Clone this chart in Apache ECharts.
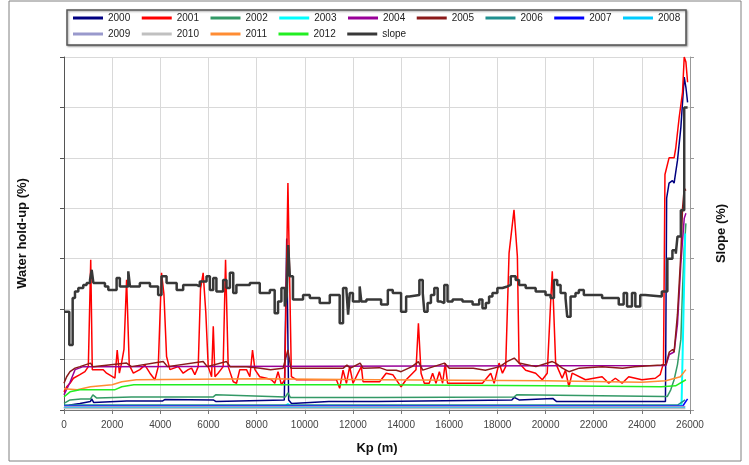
<!DOCTYPE html>
<html>
<head>
<meta charset="utf-8">
<script src="https://cdn.jsdelivr.net/npm/echarts@6/dist/echarts.min.js"></script>
<style>
  html, body { margin: 0; padding: 0; background: #fff; }
  #chart { width: 749px; height: 465px; }
</style>
</head>
<body>
<div id="chart"></div>
<script>
// x axis ticks (Kp, m)
var kpTicks = [0, 2000, 4000, 6000, 8000, 10000, 12000, 14000, 16000, 18000, 20000, 22000, 24000, 26000];

// slope (%), right axis, stepped
var kpSlope = [0, 220, 360, 456, 595, 800, 940, 1080, 1150, 1220, 1700, 1840, 2185, 2320, 2670, 2740, 3150, 3570, 3910, 4050, 4260, 4680, 4950, 5500, 5640, 5920, 6060, 6200, 6330, 6610, 6750, 6890, 7030, 7160, 7720, 8130, 8550, 8750, 8890, 9030, 9170, 9250, 9310, 9380, 9510, 9930, 10210, 10620, 11040, 11450, 11590, 11730, 11800, 11870, 12000, 12280, 12350, 12560, 13170, 13450, 13655, 14000, 14210, 14345, 14760, 14900, 14965, 15100, 15240, 15380, 15520, 15655, 15795, 15930, 16140, 16550, 16970, 17245, 17380, 17520, 17655, 17795, 18000, 18210, 18415, 18555, 18760, 18900, 19175, 19590, 20000, 20210, 20350, 20485, 20625, 20830, 20900, 21040, 21245, 21385, 21590, 22350, 23040, 23245, 23385, 23590, 23730, 23935, 24140, 24830, 25060, 25270, 25410, 25480, 25620, 25760, 25900];
var slope = [1.95, 1.29, 2.22, 2.35, 2.42, 2.48, 2.52, 2.58, 2.78, 2.52, 2.45, 2.38, 2.62, 2.45, 2.75, 2.45, 2.52, 2.45, 2.28, 2.65, 2.52, 2.38, 2.48, 2.45, 2.55, 2.65, 2.38, 2.62, 2.35, 2.58, 2.42, 2.72, 2.32, 2.48, 2.52, 2.32, 2.38, 1.92, 2.15, 2.42, 2.05, 2.25, 3.27, 2.65, 2.19, 2.28, 2.22, 2.12, 2.28, 1.72, 2.42, 2.38, 1.89, 2.32, 2.15, 2.45, 2.15, 2.19, 2.09, 2.38, 2.32, 1.95, 2.25, 2.28, 2.58, 2.32, 1.95, 2.12, 2.28, 2.42, 2.15, 2.12, 2.48, 2.15, 2.19, 2.15, 2.09, 2.19, 2.02, 2.12, 2.25, 2.32, 2.42, 2.45, 2.48, 2.65, 2.58, 2.48, 2.42, 2.35, 2.28, 2.22, 2.58, 2.48, 2.32, 2.22, 1.85, 2.25, 2.32, 2.38, 2.28, 2.22, 2.09, 2.32, 2.05, 2.32, 2.05, 2.28, 2.25, 2.35, 3.0, 3.17, 3.1, 3.44, 3.96, 6.0, 6.0];

// water hold-up (%), left axis
var kp2000 = [0, 250, 660, 1100, 1150, 1230, 2600, 4100, 4200, 6200, 6300, 9150, 9250, 9330, 9450, 11000, 13000, 18600, 18700, 18900, 20300, 20450, 24980, 25030, 25130, 25270, 25340, 25480, 25620, 25760, 25830, 25900];
var hu2000 = [0.03, 0.1, 0.13, 0.17, 0.22, 0.15, 0.18, 0.18, 0.21, 0.2, 0.17, 0.2, 3.4, 0.2, 0.13, 0.17, 0.17, 0.2, 0.25, 0.2, 0.23, 0.17, 0.17, 4.2, 4.5, 4.55, 4.5, 4.95, 5.6, 6.6, 6.4, 6.1];

var kp2001 = [0, 110, 250, 390, 660, 870, 1010, 1110, 1175, 1630, 1770, 2115, 2210, 2300, 2390, 2490, 2600, 2710, 2880, 3150, 3360, 3570, 3775, 3915, 4050, 4150, 4260, 4400, 4745, 4950, 5160, 5300, 5435, 5575, 5670, 5780, 5890, 5990, 6130, 6200, 6270, 6400, 6610, 6710, 6820, 7030, 7165, 7300, 7580, 7720, 7830, 7930, 8130, 8410, 8615, 8755, 8890, 9030, 9170, 9300, 9445, 9655, 11315, 11450, 11590, 11730, 11865, 12005, 12210, 12350, 12420, 13110, 13380, 13655, 14000, 14210, 14620, 14720, 14830, 14965, 15170, 15310, 15450, 15590, 15725, 15835, 15930, 17380, 17725, 17865, 18070, 18210, 18345, 18485, 18690, 18830, 18900, 19175, 19590, 19865, 20070, 20210, 20280, 20420, 20690, 20830, 20970, 21105, 21660, 22350, 22625, 22900, 23180, 23455, 24000, 24560, 24760, 24900, 24960, 25130, 25340, 25410, 25550, 25690, 25760, 25830, 25900];
var hu2001 = [0.36, 0.46, 0.53, 0.63, 0.7, 0.76, 0.86, 2.98, 0.8, 0.8, 0.73, 0.63, 1.19, 0.73, 0.93, 1.2, 2.58, 0.89, 0.73, 0.8, 0.89, 0.73, 0.6, 0.86, 2.72, 2.3, 1.06, 0.8, 0.86, 0.73, 0.8, 0.83, 0.7, 0.86, 2.4, 2.72, 1.93, 0.86, 0.66, 1.66, 0.66, 0.73, 0.86, 2.98, 0.86, 0.56, 0.53, 0.8, 0.8, 0.66, 1.19, 0.8, 0.66, 0.63, 0.6, 0.53, 0.76, 0.5, 0.6, 4.5, 0.66, 0.6, 0.6, 0.43, 0.79, 0.53, 0.86, 0.53, 0.73, 0.86, 0.56, 0.56, 0.73, 0.7, 0.46, 0.6, 0.8, 1.72, 0.73, 0.53, 0.53, 0.73, 0.53, 0.76, 0.53, 0.93, 0.53, 0.53, 0.73, 0.53, 0.93, 0.73, 0.86, 3.11, 3.97, 3.05, 0.93, 0.79, 0.73, 0.6, 0.73, 2.12, 2.75, 0.93, 0.63, 0.79, 0.46, 0.73, 0.6, 0.66, 0.53, 0.63, 0.53, 0.66, 0.6, 0.63, 0.7, 0.93, 4.67, 5.0, 5.0, 5.2, 5.8, 6.3, 7.0, 6.9, 6.5];

var kp2002 = [0, 250, 700, 1100, 1200, 1350, 2100, 2800, 6200, 6300, 9200, 9300, 9400, 13000, 18700, 18800, 24900, 25060, 25200, 25340, 25480, 25620, 25690, 25760, 25830];
var hu2002 = [0.13, 0.2, 0.22, 0.22, 0.3, 0.24, 0.25, 0.26, 0.26, 0.3, 0.26, 0.34, 0.25, 0.25, 0.26, 0.3, 0.27, 0.27, 0.4, 0.6, 0.9, 1.4, 2.4, 3.2, 3.7];

var kp2003 = [0, 9200, 9300, 9400, 25600, 25650, 25800];
var hu2003 = [0.08, 0.08, 0.12, 0.08, 0.08, 0.12, 3.5];

var kp2004 = [0, 250, 460, 800, 25000, 25140, 25340, 25480, 25620, 25760, 25830];
var hu2004 = [0.3, 0.55, 0.8, 0.86, 0.88, 1.1, 1.15, 1.7, 2.9, 3.8, 3.9];

var kp2005 = [0, 110, 250, 460, 660, 1100, 1200, 2600, 2800, 4120, 4300, 5780, 5950, 6750, 6900, 7580, 8150, 8580, 9100, 9300, 9420, 11600, 11750, 11900, 12300, 12420, 13110, 13400, 13800, 14000, 14450, 14720, 14900, 15800, 16000, 17000, 17500, 18100, 18400, 18700, 18900, 19600, 20280, 20420, 20700, 20970, 21400, 22350, 23200, 23700, 24800, 25000, 25140, 25280, 25340, 25480, 25550, 25620, 25690, 25760, 25830];
var hu2005 = [0.53, 0.66, 0.76, 0.83, 0.86, 0.93, 0.86, 0.93, 0.86, 0.96, 0.86, 0.96, 0.86, 0.96, 0.86, 0.86, 0.83, 0.8, 0.83, 1.19, 0.83, 0.83, 0.89, 0.83, 0.93, 0.83, 0.84, 0.79, 0.79, 0.76, 0.86, 0.96, 0.79, 0.93, 0.83, 0.83, 0.79, 0.86, 0.96, 1.03, 0.93, 0.86, 0.96, 0.93, 0.83, 0.76, 0.83, 0.86, 0.83, 0.86, 0.89, 0.9, 1.15, 1.2, 1.15, 1.9, 2.5, 3.1, 4.0, 4.4, 4.35];

var kp2006 = [0, 25500, 25800];
var hu2006 = [0.1, 0.1, 0.2];

var kp2007 = [0, 25700, 25900];
var hu2007 = [0.08, 0.08, 0.22];

var kp2008 = [0, 25800];
var hu2008 = [0.05, 0.05];

var kp2009 = [0, 25800];
var hu2009 = [0.07, 0.07];

var kp2010 = [0, 25800];
var hu2010 = [0.03, 0.03];

var kp2011 = [0, 550, 1100, 2000, 2400, 3000, 8000, 13000, 20000, 24000, 25000, 25600, 25830];
var hu2011 = [0.42, 0.4, 0.46, 0.5, 0.56, 0.6, 0.62, 0.6, 0.58, 0.55, 0.58, 0.66, 0.8];

var kp2012 = [0, 250, 660, 2100, 2400, 2900, 13000, 20000, 24800, 25400, 25830];
var hu2012 = [0.26, 0.36, 0.4, 0.4, 0.46, 0.5, 0.5, 0.48, 0.46, 0.48, 0.6];

var font = 'Liberation Sans, Arial, sans-serif';

function pairs(xs, ys) {
  return xs.map(function (x, i) { return [x, ys[i]]; });
}

function line(name, xs, ys, color, width, yIndex, step) {
  return {
    name: name,
    type: 'line',
    yAxisIndex: yIndex || 0,
    data: pairs(xs, ys),
    symbol: 'none',
    step: step || false,
    animation: false,
    lineStyle: { color: color, width: width },
    itemStyle: { color: color }
  };
}

var chart = echarts.init(document.getElementById('chart'), null, { renderer: 'canvas' });

var legendCommon = {
  orient: 'horizontal',
  left: 73,
  padding: 0,
  icon: 'rect',
  itemWidth: 30,
  itemHeight: 3,
  itemGap: 11.5,
  textStyle: { fontFamily: font, fontSize: 10, color: '#222' }
};

var option = {
  backgroundColor: '#ffffff',
  textStyle: { fontFamily: font },
  graphic: [
    { type: 'rect', shape: { x: 9, y: 1, width: 732, height: 460 }, style: { fill: 'none', stroke: '#808080', lineWidth: 1 }, silent: true },
    { type: 'rect', shape: { x: 67, y: 10, width: 619, height: 35 }, style: { fill: '#fff', stroke: '#555', lineWidth: 1.5, shadowBlur: 2, shadowOffsetX: 1, shadowOffsetY: 1, shadowColor: 'rgba(0,0,0,0.35)' }, silent: true, z: -1 }
  ],
  legend: [
    Object.assign({ top: 13, data: ['2000', '2001', '2002', '2003', '2004', '2005', '2006', '2007', '2008'] }, legendCommon),
    Object.assign({ top: 29, data: ['2009', '2010', '2011', '2012', 'slope'] }, legendCommon)
  ],
  grid: { left: 64, right: 59, top: 57, bottom: 55 },
  xAxis: {
    type: 'value',
    min: kpTicks[0],
    max: kpTicks[kpTicks.length - 1],
    interval: 2000,
    name: 'Kp (m)',
    nameLocation: 'middle',
    nameGap: 32,
    nameTextStyle: { fontFamily: font, fontSize: 13, fontWeight: 'bold', color: '#111' },
    axisLine: { lineStyle: { color: '#777' } },
    axisTick: { show: true, length: 4, lineStyle: { color: '#777' } },
    axisLabel: {
      fontFamily: font, fontSize: 10, color: '#444', margin: 10,
      formatter: function (v) { return String(v); }
    },
    splitLine: { show: true, lineStyle: { color: '#d9d9d9', width: 1 } }
  },
  yAxis: [
    {
      type: 'value', min: 0, max: 7, interval: 1,
      name: 'Water hold-up (%)',
      nameLocation: 'middle', nameRotate: 90, nameGap: 35,
      nameTextStyle: { fontFamily: font, fontSize: 13, fontWeight: 'bold', color: '#111' },
      axisLine: { show: true, lineStyle: { color: '#555' } },
      axisTick: { show: true, length: 4, lineStyle: { color: '#555' } },
      axisLabel: { show: false },
      splitLine: { show: true, lineStyle: { color: '#d9d9d9', width: 1 } }
    },
    {
      type: 'value', min: 0, max: 7, interval: 1, position: 'right',
      name: 'Slope (%)',
      nameLocation: 'middle', nameRotate: 90, nameGap: 25,
      nameTextStyle: { fontFamily: font, fontSize: 13, fontWeight: 'bold', color: '#111' },
      axisLine: { show: true, lineStyle: { color: '#999' } },
      axisTick: { show: true, length: 4, lineStyle: { color: '#999' } },
      axisLabel: { show: false },
      splitLine: { show: false }
    }
  ],
  series: [
    line('2000', kp2000, hu2000, '#000080', 1.5),
    line('2001', kp2001, hu2001, '#ff0000', 1.5),
    line('2002', kp2002, hu2002, '#339966', 1.5),
    line('2003', kp2003, hu2003, '#00ffff', 2),
    line('2004', kp2004, hu2004, '#990099', 1.5),
    line('2005', kp2005, hu2005, '#8b1a1a', 1.5),
    line('2006', kp2006, hu2006, '#1f8f8f', 1.5),
    line('2007', kp2007, hu2007, '#0000ff', 1.5),
    line('2008', kp2008, hu2008, '#00ccff', 2.5),
    line('2009', kp2009, hu2009, '#9999cc', 1.5),
    line('2010', kp2010, hu2010, '#c0c0c0', 1.5),
    line('2011', kp2011, hu2011, '#ff8c33', 1.5),
    line('2012', kp2012, hu2012, '#22ee22', 1.5),
    line('slope', kpSlope, slope, '#383838', 2.5, 1, 'end')
  ]
};

chart.setOption(option);
</script>
</body>
</html>
